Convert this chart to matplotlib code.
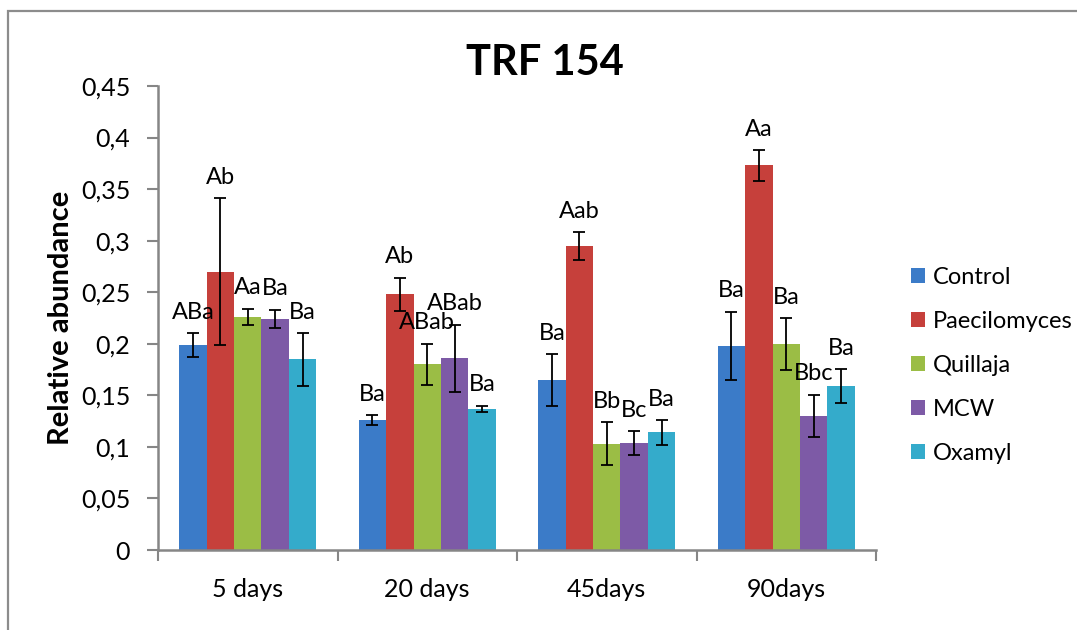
import numpy as np
import matplotlib
matplotlib.use("Agg")
import matplotlib.pyplot as plt
from matplotlib.patches import Rectangle
from matplotlib.ticker import FixedLocator, FuncFormatter

plt.rcParams["font.family"] = ["Lato", "DejaVu Sans"]

days = ["5 days", "20 days", "45days", "90days"]
treatments = ["Control", "Paecilomyces", "Quillaja", "MCW", "Oxamyl"]

control = [0.199, 0.126, 0.165, 0.198]
paecilomyces = [0.270, 0.248, 0.295, 0.373]
quillaja = [0.226, 0.180, 0.103, 0.200]
mcw = [0.224, 0.186, 0.104, 0.130]
oxamyl = [0.185, 0.137, 0.114, 0.159]

control_err = [0.0115, 0.005, 0.025, 0.033]
paecilomyces_err = [0.071, 0.016, 0.0135, 0.015]
quillaja_err = [0.008, 0.020, 0.021, 0.025]
mcw_err = [0.009, 0.0325, 0.0115, 0.0205]
oxamyl_err = [0.0255, 0.003, 0.012, 0.0165]

control_lbl = ["ABa", "Ba", "Ba", "Ba"]
paecilomyces_lbl = ["Ab", "Ab", "Aab", "Aa"]
quillaja_lbl = ["Aa", "ABab", "Bb", "Ba"]
mcw_lbl = ["Ba", "ABab", "Bc", "Bbc"]
oxamyl_lbl = ["Ba", "Ba", "Ba", "Ba"]

series = [control, paecilomyces, quillaja, mcw, oxamyl]
errors = [control_err, paecilomyces_err, quillaja_err, mcw_err, oxamyl_err]
labels = [control_lbl, paecilomyces_lbl, quillaja_lbl, mcw_lbl, oxamyl_lbl]
colors = ["#3B7BC8", "#C6403B", "#9BBD45", "#7D5AA6", "#34ABCB"]

fig = plt.figure(figsize=(10.77, 6.30), dpi=100)
ax = fig.add_axes([158 / 1077, 1 - 550 / 630, 718 / 1077, 464 / 630])

# grey chart border (Excel style), running off the right/bottom edges
fig.patches.append(Rectangle((8 / 1077, -0.1), 1.2, 1 - 10.5 / 630 + 0.1,
                             transform=fig.transFigure, fill=False,
                             edgecolor="#8C8C8C", linewidth=1.6))

x = np.arange(len(days))
w = 0.1527
for i, (vals, err, lbl, c, name) in enumerate(zip(series, errors, labels, colors, treatments)):
    pos = x + (i - 2) * w
    ax.bar(pos, vals, w, color=c, label=name, zorder=2)
    ax.errorbar(pos, vals, yerr=err, fmt="none", ecolor="black",
                elinewidth=1.3, capsize=4, capthick=1.3, zorder=3)
    for px, v, e, t in zip(pos, vals, err, lbl):
        ax.annotate(t, (px, v + e), xytext=(0, 15), textcoords="offset points",
                    ha="center", va="center", fontsize=17)

ax.set_xlim(-0.5, 3.5)
ax.set_ylim(0, 0.45)
ax.yaxis.set_major_locator(FixedLocator(np.arange(0, 0.451, 0.05)))
ax.yaxis.set_major_formatter(FuncFormatter(lambda v, p: ("%g" % round(v, 2)).replace(".", ",")))
ax.set_xticks(x)
ax.set_xticklabels(days)
ax.xaxis.set_minor_locator(FixedLocator(np.arange(-0.5, 3.6, 1.0)))
ax.tick_params(axis="x", which="major", length=0, pad=20, labelsize=18)
ax.tick_params(axis="x", which="minor", length=8, width=1.5, color="#868686", direction="out")
ax.tick_params(axis="y", length=8, width=1.5, color="#868686", direction="out", pad=12, labelsize=18)

for s in ["top", "right"]:
    ax.spines[s].set_visible(False)
for s in ["left", "bottom"]:
    ax.spines[s].set_color("#868686")
    ax.spines[s].set_linewidth(1.8)

ax.set_ylabel("Relative abundance", fontsize=21, fontweight="bold", labelpad=5)
fig.text(545 / 1077, 1 - 63 / 630, "TRF 154", ha="center", va="center",
         fontsize=30, fontweight="bold")

leg = ax.legend(loc="upper left", bbox_to_anchor=(1.035, 0.63), frameon=False,
                fontsize=17, handlelength=0.6, handleheight=0.6, handletextpad=0.35,
                labelspacing=0.97, borderaxespad=0)

fig.savefig("out.png", dpi=100)
